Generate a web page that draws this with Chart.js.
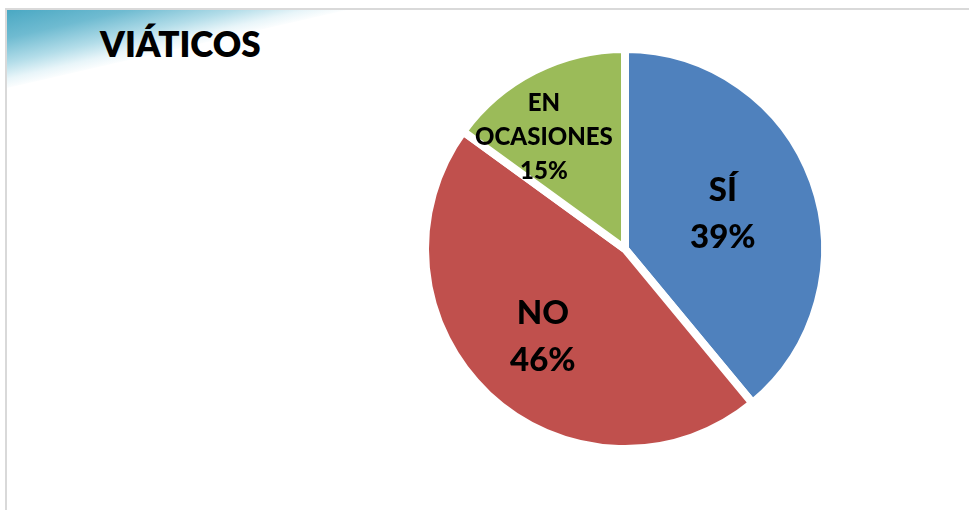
<!DOCTYPE html>
<html>
<head>
<meta charset="utf-8">
<script src="https://cdn.jsdelivr.net/npm/chart.js@4/dist/chart.umd.min.js"></script>
<style>
  html, body { margin: 0; padding: 0; background: #fff; width: 969px; height: 510px; overflow: hidden; }
  #frame { position: absolute; left: 5px; top: 8px; width: 964px; height: 502px;
           border-top: 2px solid #d9d9d9; border-left: 2px solid #d9d9d9; box-sizing: border-box; }
  #corner { position: absolute; left: 7px; top: 10px; width: 340px; height: 78px;
            background: linear-gradient(167deg, #4aa8c3 0%, #6fbbd1 18%, #b3dde9 34%, #e8f5f9 44%, #ffffff 51%);
            clip-path: polygon(0 0, 100% 0, 0 100%); }
  #title { position: absolute; left: 100px; top: 23px; font-family: Lato, sans-serif; font-weight: 800;
           font-size: 35px; color: #000; line-height: 40px; }
  #c { position: absolute; left: 0; top: 0; }
</style>
</head>
<body>
<div id="frame"></div>
<div id="corner"></div>
<div id="title">VIÁTICOS</div>
<canvas id="c" width="969" height="510"></canvas>
<script>
const categories = ['SÍ', 'NO', 'EN OCASIONES'];
const values = [39, 46, 15];
const colors = ['#4F81BD', '#C0504D', '#9BBB59'];

const sliceLabels = {
  id: 'sliceLabels',
  afterDatasetsDraw(chart, args, opts) {
    const ctx = chart.ctx;
    const meta = chart.getDatasetMeta(0);
    const data = chart.data.datasets[0].data;
    const total = data.reduce((a, b) => a + b, 0);
    meta.data.forEach((arc, i) => {
      const p = arc.getProps(['x', 'y', 'startAngle', 'endAngle', 'outerRadius'], true);
      const mid = (p.startAngle + p.endAngle) / 2 + opts.angleShift[i];
      const r = p.outerRadius * opts.radial[i];
      const cx = p.x + Math.cos(mid) * r;
      const cy = p.y + Math.sin(mid) * r;
      const lines = chart.data.labels[i].split(' ');
      lines.push(Math.round(data[i] / total * 100) + '%');
      const fs = opts.fontSizes[i];
      const lh = fs * opts.lineHeight;
      ctx.save();
      ctx.font = '900 ' + fs + 'px Lato, sans-serif';
      ctx.fillStyle = '#000';
      ctx.textAlign = 'center';
      ctx.textBaseline = 'middle';
      const y0 = cy - (lines.length - 1) * lh / 2;
      lines.forEach((t, k) => ctx.fillText(t, cx, y0 + k * lh));
      ctx.restore();
    });
  }
};

new Chart(document.getElementById('c'), {
  type: 'pie',
  data: {
    labels: categories,
    datasets: [{
      data: values,
      backgroundColor: colors,
      borderColor: '#ffffff',
      borderWidth: 8,
      hoverBorderWidth: 8,
      hoverOffset: 0,
      offset: 0
    }]
  },
  options: {
    responsive: false,
    animation: false,
    events: [],
    layout: { padding: { left: 421, right: 140, top: 45, bottom: 57 } },
    plugins: {
      legend: { display: false },
      tooltip: { enabled: false },
      title: { display: false },
      sliceLabels: { radial: [0.52, 0.6, 0.69], angleShift: [0, 0, -0.157], fontSizes: [33, 33, 24], lineHeight: 1.42 }
    }
  },
  plugins: [sliceLabels]
});
</script>
</body>
</html>
